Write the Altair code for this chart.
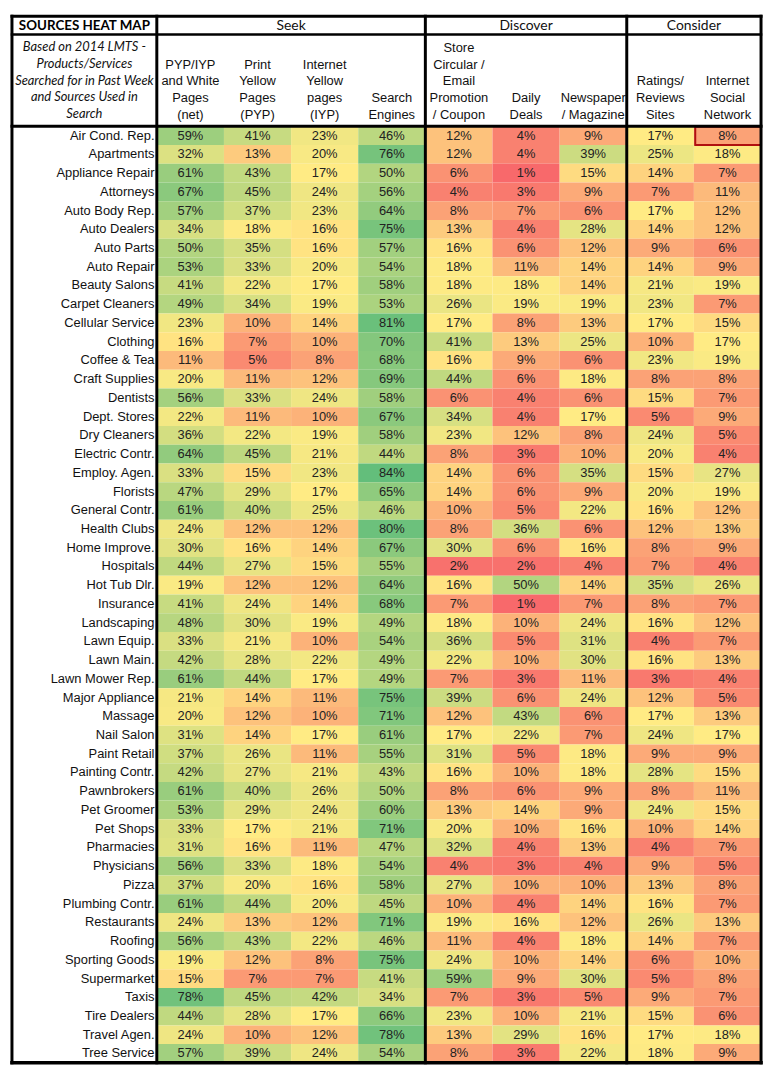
import altair as alt
import pandas as pd
import numpy as np

# ---------------- data ----------------
categories = [
    "Air Cond. Rep.", "Apartments", "Appliance Repair", "Attorneys", "Auto Body Rep.",
    "Auto Dealers", "Auto Parts", "Auto Repair", "Beauty Salons", "Carpet Cleaners",
    "Cellular Service", "Clothing", "Coffee & Tea", "Craft Supplies", "Dentists",
    "Dept. Stores", "Dry Cleaners", "Electric Contr.", "Employ. Agen.", "Florists",
    "General Contr.", "Health Clubs", "Home Improve.", "Hospitals", "Hot Tub Dlr.",
    "Insurance", "Landscaping", "Lawn Equip.", "Lawn Main.", "Lawn Mower Rep.",
    "Major Appliance", "Massage", "Nail Salon", "Paint Retail", "Painting Contr.",
    "Pawnbrokers", "Pet Groomer", "Pet Shops", "Pharmacies", "Physicians",
    "Pizza", "Plumbing Contr.", "Restaurants", "Roofing", "Sporting Goods",
    "Supermarket", "Taxis", "Tire Dealers", "Travel Agen.", "Tree Service",
]

column_headers = [
    "PYP/IYP\nand White\nPages\n(net)",
    "Print\nYellow\nPages\n(PYP)",
    "Internet\nYellow\npages\n(IYP)",
    "Search\nEngines",
    "Store\nCircular /\nEmail\nPromotion\n/ Coupon",
    "Daily\nDeals",
    "Newspaper\n/ Magazine",
    "Ratings/\nReviews\nSites",
    "Internet\nSocial\nNetwork",
]

group_names = ["Seek", "Discover", "Consider"]
group_first_col = [0, 4, 7]
group_last_col = [4, 7, 9]

title_text = "SOURCES HEAT MAP"
subtitle_text = "Based on 2014 LMTS -\nProducts/Services\nSearched for in Past Week\nand Sources Used in\nSearch"

pyp_iyp_net = [59, 32, 61, 67, 57, 34, 50, 53, 41, 49, 23, 16, 11, 20, 56, 22, 36, 64, 33, 47,
               61, 24, 30, 44, 19, 41, 48, 33, 42, 61, 21, 20, 31, 37, 42, 61, 53, 33, 31, 56,
               37, 61, 24, 56, 19, 15, 78, 44, 24, 57]
print_yp = [41, 13, 43, 45, 37, 18, 35, 33, 22, 34, 10, 7, 5, 11, 33, 11, 22, 45, 15, 29,
            40, 12, 16, 27, 12, 24, 30, 21, 28, 44, 14, 12, 14, 26, 27, 40, 29, 17, 16, 33,
            20, 44, 13, 43, 12, 7, 45, 28, 10, 39]
internet_yp = [23, 20, 17, 24, 23, 16, 16, 20, 17, 19, 14, 10, 8, 12, 24, 10, 19, 21, 23, 17,
               25, 12, 14, 15, 12, 14, 19, 10, 22, 17, 11, 10, 17, 11, 21, 26, 24, 21, 11, 18,
               16, 20, 12, 22, 8, 7, 42, 17, 12, 24]
search_engines = [46, 76, 50, 56, 64, 75, 57, 54, 58, 53, 81, 70, 68, 69, 58, 67, 58, 44, 84, 65,
                  46, 80, 67, 55, 64, 68, 49, 54, 49, 49, 75, 71, 61, 55, 43, 50, 60, 71, 47, 54,
                  58, 45, 71, 46, 75, 41, 34, 66, 78, 54]
store_circular = [12, 12, 6, 4, 8, 13, 16, 18, 18, 26, 17, 41, 16, 44, 6, 34, 23, 8, 14, 14,
                  10, 8, 30, 2, 16, 7, 18, 36, 22, 7, 39, 12, 17, 31, 16, 8, 13, 20, 32, 4,
                  27, 10, 19, 11, 24, 59, 7, 23, 13, 8]
daily_deals = [4, 4, 1, 3, 7, 4, 6, 11, 18, 19, 8, 13, 9, 6, 4, 4, 12, 3, 6, 6,
               5, 36, 6, 2, 50, 1, 10, 5, 10, 3, 6, 43, 22, 5, 10, 6, 14, 10, 4, 3,
               10, 4, 16, 4, 10, 9, 3, 10, 29, 3]
newspaper = [9, 39, 15, 9, 6, 28, 12, 14, 14, 19, 13, 25, 6, 18, 6, 17, 8, 10, 35, 9,
             22, 6, 16, 4, 14, 7, 24, 31, 30, 11, 24, 6, 7, 18, 18, 9, 9, 16, 13, 4,
             10, 14, 12, 18, 14, 30, 5, 21, 16, 22]
ratings_sites = [17, 25, 14, 7, 17, 14, 9, 14, 21, 23, 17, 10, 23, 8, 15, 5, 24, 20, 15, 20,
                 16, 12, 8, 7, 35, 8, 16, 4, 16, 3, 12, 17, 24, 9, 28, 8, 24, 10, 4, 9,
                 13, 16, 26, 14, 6, 5, 9, 15, 17, 18]
social_network = [8, 18, 7, 11, 12, 12, 6, 9, 19, 7, 15, 17, 19, 8, 7, 9, 5, 4, 27, 19,
                  12, 13, 9, 4, 26, 7, 12, 7, 13, 4, 5, 13, 17, 9, 15, 11, 15, 14, 7, 5,
                  8, 7, 13, 7, 10, 8, 7, 6, 18, 9]

series = [pyp_iyp_net, print_yp, internet_yp, search_engines, store_circular,
          daily_deals, newspaper, ratings_sites, social_network]

# ---------------- layout (grid units) ----------------
N_ROWS = len(categories)
N_COLS = len(series)
ROW_PX = 18.88           # height of one data row
COL_PX = 67.67           # width of one data column
TOP = 15.0               # page y of the plot area's top edge
LABEL_PX = 146.0         # width of the label column
HEADER_PX = 126.0 - TOP  # header height
W_PX = round(LABEL_PX + N_COLS * COL_PX)
H_PX = round(HEADER_PX + N_ROWS * ROW_PX)
LABEL_W = LABEL_PX / COL_PX
HEADER_H = HEADER_PX / ROW_PX


def yu(page_y):
    """page y (px) -> row units"""
    return (page_y - TOP) / ROW_PX - HEADER_H


ROW1_BOTTOM = yu(TOP + 18.5)
LINE_PX = 16.8
LINE_U = LINE_PX / ROW_PX
HDR_LAST_BASE = yu(118.5)
SUB_FIRST = yu(46.5)
ROW1_MID = yu(TOP + 9.5)

RED, YELLOW, GREEN = "#F8696B", "#FFEB84", "#63BE7B"
ARIAL = "Liberation Sans, Arial, sans-serif"
CAL = "Lato, Carlito, Open Sans, sans-serif"

# ---------------- tables ----------------
cells = pd.DataFrame(
    [{"row": r, "col": c, "value": series[c][r], "category": categories[r]}
     for c in range(N_COLS) for r in range(N_ROWS)]
)
all_vals = np.array(series).ravel()
color_domain = [float(all_vals.min()), float(np.median(all_vals)), float(all_vals.max())]

xs = alt.Scale(domain=[-LABEL_W, N_COLS], nice=False, zero=False)
ys = alt.Scale(domain=[-HEADER_H, N_ROWS], nice=False, zero=False, reverse=True)

base_cells = alt.Chart(cells).transform_calculate(
    x0="datum.col", x1="datum.col + 1", xc="datum.col + 0.5",
    y0="datum.row", y1="datum.row + 1", yc="datum.row + 0.5",
    label="datum.value + '%'",
)

heat = base_cells.mark_rect(strokeWidth=0).encode(
    x=alt.X("x0:Q", scale=xs, axis=None),
    x2="x1:Q",
    y=alt.Y("y0:Q", scale=ys, axis=None),
    y2="y1:Q",
    color=alt.Color("value:Q", scale=alt.Scale(domain=color_domain, range=[RED, YELLOW, GREEN],
                                               interpolate="rgb"), legend=None),
)

values_txt = base_cells.mark_text(font=ARIAL, fontSize=13, color="#222",
                                  baseline="middle", align="center").encode(
    x=alt.X("xc:Q", scale=xs, axis=None),
    y=alt.Y("yc:Q", scale=ys, axis=None),
    text="label:N",
)

labels_df = pd.DataFrame({"category": categories, "row": list(range(N_ROWS))})
labels_txt = alt.Chart(labels_df).transform_calculate(
    xl="-0.035", yc="datum.row + 0.5"
).mark_text(font=ARIAL, fontSize=13, color="#111", align="right", baseline="middle").encode(
    x=alt.X("xl:Q", scale=xs, axis=None),
    y=alt.Y("yc:Q", scale=ys, axis=None),
    text="category:N",
)

# column headers (bottom-aligned: first line moved up by the number of lines)
colh_df = pd.DataFrame({"txt": [h.split("\n") for h in column_headers],
                        "col": list(range(N_COLS))})
colh_txt = alt.Chart(colh_df).transform_calculate(
    xc="datum.col + 0.5",
    yb=f"{HDR_LAST_BASE} - (length(datum.txt) - 1) * {LINE_U}",
).mark_text(font=ARIAL, fontSize=13, lineHeight=LINE_PX, color="#111",
            align="center", baseline="alphabetic").encode(
    x=alt.X("xc:Q", scale=xs, axis=None),
    y=alt.Y("yb:Q", scale=ys, axis=None),
    text="txt",
)

# group headers
grp_df = pd.DataFrame({"name": group_names, "c0": group_first_col, "c1": group_last_col})
grp_txt = alt.Chart(grp_df).transform_calculate(
    xc="(datum.c0 + datum.c1) / 2", yc=f"{ROW1_MID}"
).mark_text(font=CAL, fontSize=14, color="#111", align="center", baseline="middle").encode(
    x=alt.X("xc:Q", scale=xs, axis=None),
    y=alt.Y("yc:Q", scale=ys, axis=None),
    text="name:N",
)

title_df = pd.DataFrame({"t": [title_text]})
title_txt = alt.Chart(title_df).transform_calculate(
    xc=f"{-LABEL_W / 2}", yc=f"{ROW1_MID}"
).mark_text(font=CAL, fontSize=13.5, fontWeight="bold", color="#000",
            align="center", baseline="middle").encode(
    x=alt.X("xc:Q", scale=xs, axis=None),
    y=alt.Y("yc:Q", scale=ys, axis=None),
    text="t:N",
)

sub_df = pd.DataFrame({"t": [subtitle_text.split("\n")]})
sub_txt = alt.Chart(sub_df).transform_calculate(
    xc=f"{-LABEL_W / 2}", yc=f"{SUB_FIRST}"
).mark_text(font=CAL, fontSize=13, fontStyle="italic", lineHeight=LINE_PX, color="#111",
            align="center", baseline="middle").encode(
    x=alt.X("xc:Q", scale=xs, axis=None),
    y=alt.Y("yc:Q", scale=ys, axis=None),
    text="t",
)

# border lines
lines = [
    (-LABEL_W, N_COLS, -HEADER_H, -HEADER_H, 3),
    (-LABEL_W, N_COLS, N_ROWS, N_ROWS, 3.5),
    (-LABEL_W, -LABEL_W, -HEADER_H, N_ROWS, 3),
    (N_COLS, N_COLS, -HEADER_H, N_ROWS, 3),
    (-LABEL_W, N_COLS, ROW1_BOTTOM, ROW1_BOTTOM, 2.5),
    (-LABEL_W, N_COLS, 0, 0, 3),
]
for c in [0] + group_last_col[:-1]:
    lines.append((c, c, -HEADER_H, N_ROWS, 3))
lines_df = pd.DataFrame(lines, columns=["xa", "xb", "ya", "yb", "w"])
borders = alt.Chart(lines_df).mark_rule(color="#000", strokeCap="square").encode(
    x=alt.X("xa:Q", scale=xs, axis=None), x2="xb:Q",
    y=alt.Y("ya:Q", scale=ys, axis=None), y2="yb:Q",
    strokeWidth=alt.StrokeWidth("w:Q", scale=None),
)

# selected cell outline
sel_df = pd.DataFrame({"row": [0], "col": [8]})
sel = alt.Chart(sel_df).transform_calculate(
    x0="datum.col + 0.02", x1="datum.col + 1", y0="datum.row + 0.02", y1="datum.row + 1"
).mark_rect(filled=False, stroke="#B01010", strokeWidth=2).encode(
    x=alt.X("x0:Q", scale=xs, axis=None), x2="x1:Q",
    y=alt.Y("y0:Q", scale=ys, axis=None), y2="y1:Q",
)

chart = alt.layer(
    heat, values_txt, labels_txt, colh_txt, grp_txt, title_txt, sub_txt, sel, borders
).properties(
    width=W_PX, height=H_PX, padding={"left": 1, "top": 1, "right": 1, "bottom": 1},
    background="white",
).configure_view(stroke=None)

chart.save("out.html", embed_options={"renderer": "svg", "actions": False})
